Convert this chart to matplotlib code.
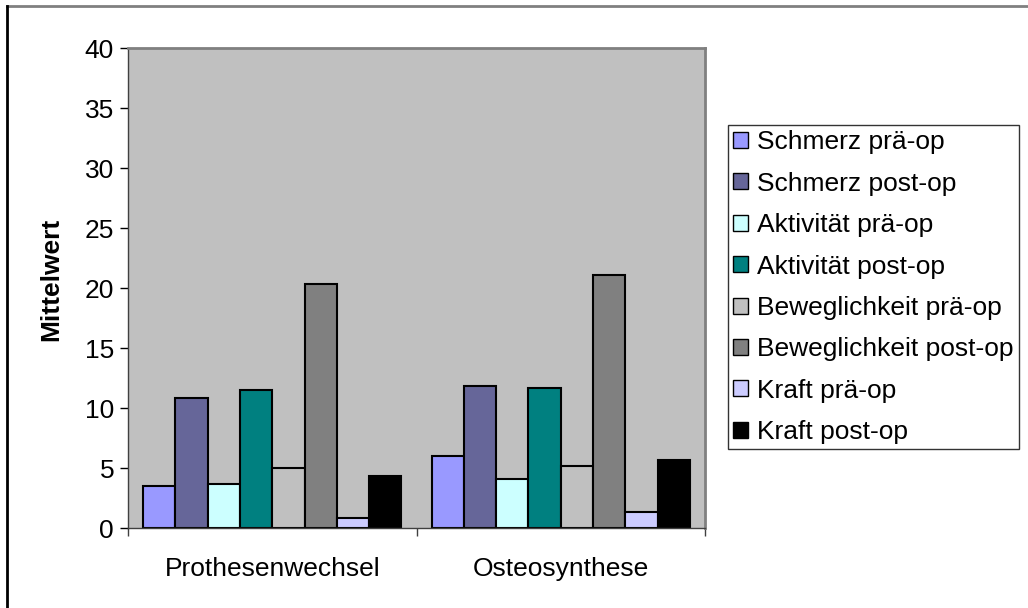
import numpy as np
import matplotlib.pyplot as plt
from matplotlib.lines import Line2D

plt.rcParams['font.family'] = ['Liberation Sans', 'DejaVu Sans']

categories = ["Prothesenwechsel", "Osteosynthese"]
series = ["Schmerz prä-op", "Schmerz post-op", "Aktivität prä-op", "Aktivität post-op",
          "Beweglichkeit prä-op", "Beweglichkeit post-op", "Kraft prä-op", "Kraft post-op"]
schmerz_prae = [3.5, 6.0]
schmerz_post = [10.8, 11.8]
aktiv_prae = [3.7, 4.1]
aktiv_post = [11.5, 11.7]
bewegl_prae = [5.0, 5.2]
bewegl_post = [20.3, 21.1]
kraft_prae = [0.8, 1.3]
kraft_post = [4.3, 5.7]
values = [schmerz_prae, schmerz_post, aktiv_prae, aktiv_post,
          bewegl_prae, bewegl_post, kraft_prae, kraft_post]
colors = ["#9999FF", "#666699", "#CCFFFF", "#008080",
          "#C0C0C0", "#808080", "#CCCCFF", "#000000"]

fs = 19

fig = plt.figure(figsize=(10.28, 6.08), dpi=100)
ax = fig.add_axes([128/1028, 1 - 528/608, 577/1028, 480/608])
ax.set_facecolor("#C0C0C0")

x = np.arange(len(categories))
w = 0.1118
for i, (name, vals, c) in enumerate(zip(series, values, colors)):
    ax.bar(x + (i - 3.5) * w, vals, width=w, color=c, edgecolor="black",
           linewidth=1.5, label=name, zorder=2)

ax.set_xlim(-0.5, 1.5)
ax.set_ylim(0, 40)
ax.set_yticks(range(0, 41, 5))
ax.tick_params(axis='y', labelsize=fs, length=6, width=1, color="black", pad=4)
ax.set_xticks(x)
ax.set_xticklabels(categories, fontsize=fs)
ax.tick_params(axis='x', length=0, pad=21)
ax.set_xticks([-0.5, 0.5, 1.5], minor=True)
ax.tick_params(axis='x', which='minor', length=6, width=1, color="#404040")
ax.set_ylabel("Mittelwert", fontsize=fs, fontweight="bold")
ax.yaxis.set_label_coords(-0.113, 0.517)

for s in ("top", "right"):
    ax.spines[s].set_color("#808080")
    ax.spines[s].set_linewidth(2)
for s in ("left", "bottom"):
    ax.spines[s].set_color("#404040")
    ax.spines[s].set_linewidth(1)

leg = ax.legend(loc="upper left", bbox_to_anchor=(600/577, (528-125)/480),
                fontsize=fs, frameon=True, fancybox=False, edgecolor="black",
                handlelength=0.55, handleheight=0.55, handletextpad=0.35,
                labelspacing=0.66, borderpad=0.2, borderaxespad=0)
leg.get_frame().set_linewidth(1)
for h in leg.legend_handles:
    h.set_linewidth(1)

# outer chart frame (top and left edges only)
fig.add_artist(Line2D([7/1028, 1], [1 - 6/608, 1 - 6/608], color="#808080", lw=2))
fig.add_artist(Line2D([7/1028, 7/1028], [0, 1 - 6/608], color="black", lw=2))

fig.savefig("out.png", dpi=100)
